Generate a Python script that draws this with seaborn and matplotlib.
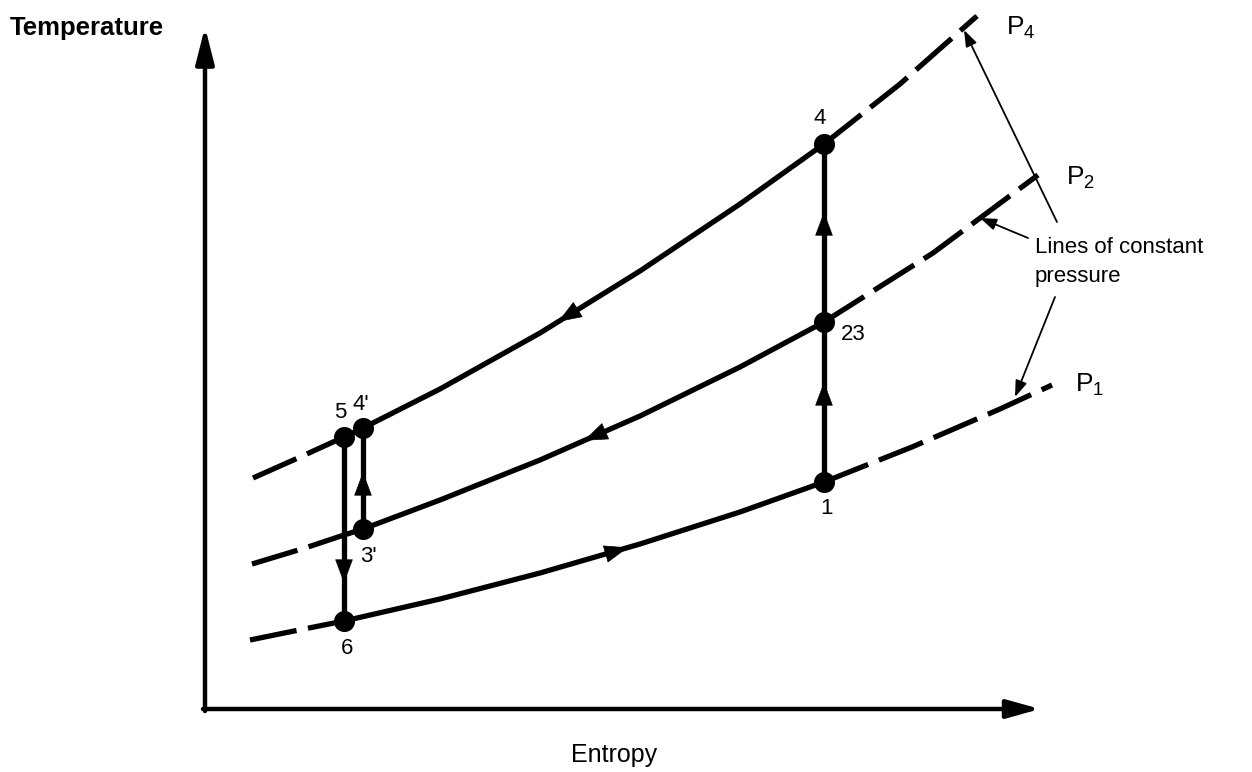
import numpy as np
import pandas as pd
import matplotlib
matplotlib.use("Agg")
import matplotlib.pyplot as plt
import seaborn as sns

# Constant-pressure lines on the T-s plane (entropy, temperature in drawing units)
p4_entropy = [253, 298, 344, 363, 440, 540, 640, 740, 824, 900, 977]
p4_temperature = [294, 314, 335, 344, 383, 439, 501, 568, 628, 688, 756]

p2_entropy = [252, 305, 344, 363, 440, 540, 640, 740, 824, 933, 1038]
p2_temperature = [208, 224, 237, 243, 272, 312, 356, 405, 450, 519, 597]

p1_entropy = [250, 294, 344, 440, 540, 640, 740, 824, 912, 1000, 1052]
p1_temperature = [132, 141, 151, 173, 199, 228, 260, 290, 325, 363, 387]

# Cycle states: label, entropy, isobar the state sits on
state_labels = ["1", "23", "4", "4'", "5", "6", "3'"]
state_entropy = [824, 824, 824, 363, 344, 344, 363]
state_isobar = ["P1", "P2", "P4", "P4", "P4", "P1", "P2"]

# Entropy span drawn solid on each isobar (the part the cycle uses)
solid_span = {"P4": (344, 824), "P2": (344, 824), "P1": (344, 824)}

curves = {
    "P4": (np.array(p4_entropy, float), np.array(p4_temperature, float)),
    "P2": (np.array(p2_entropy, float), np.array(p2_temperature, float)),
    "P1": (np.array(p1_entropy, float), np.array(p1_temperature, float)),
}


def temp_on(isobar, s):
    xs, ys = curves[isobar]
    return float(np.interp(s, xs, ys))


sns.set_theme(style="white")
plt.rcParams["font.family"] = ["Liberation Sans", "DejaVu Sans"]
plt.rcParams["text.color"] = "black"

fig = plt.figure(figsize=(12.52, 7.72), dpi=100)
ax = fig.add_axes([0, 0, 1, 1])
ax.set_xlim(0, 1252)
ax.set_ylim(0, 772)
ax.axis("off")

LW = 3.8
INK = "black"

# Isobars: dashed outside the cycle, solid along it
for name, (xs, ys) in curves.items():
    lo, hi = solid_span[name]
    df = pd.DataFrame({"s": xs, "T": ys})
    left = df[df.s <= lo]
    mid = df[(df.s >= lo) & (df.s <= hi)]
    right = df[df.s >= hi]
    sns.lineplot(data=mid, x="s", y="T", ax=ax, color=INK, lw=LW,
                 estimator=None, sort=False, solid_capstyle="round",
                 solid_joinstyle="round")
    for part in (left, right):
        sns.lineplot(data=part, x="s", y="T", ax=ax, color=INK, lw=LW,
                     estimator=None, sort=False,
                     linestyle=(0, (9, 2.2)), dash_capstyle="butt")

# Vertical (isentropic) processes of the cycle
state_T = {lab: temp_on(iso, s) for lab, s, iso in
           zip(state_labels, state_entropy, state_isobar)}
state_S = dict(zip(state_labels, state_entropy))
processes = [("1", "4"), ("3'", "4'"), ("5", "6")]
for a, b in processes:
    seg = pd.DataFrame({"s": [state_S[a], state_S[b]],
                        "T": [state_T[a], state_T[b]]})
    sns.lineplot(data=seg, x="s", y="T", ax=ax, color=INK, lw=LW,
                 estimator=None, sort=False)


def head(tip, tail, scale=20, hl=0.8, hw=0.3):
    ax.annotate("", xy=tip, xytext=tail,
                arrowprops=dict(arrowstyle=f"-|>,head_length={hl},head_width={hw}",
                                mutation_scale=scale, color=INK, lw=0.5,
                                shrinkA=0, shrinkB=0))


# Flow direction along the isobars
for name, s_at, direction in [("P4", 568, -1), ("P2", 594, -1), ("P1", 618, +1)]:
    tip = (s_at + direction * 10, temp_on(name, s_at + direction * 10))
    tail = (s_at - direction * 10, temp_on(name, s_at - direction * 10))
    head(tip, tail)

# Flow direction on the vertical processes
for s_at, t_tip, t_tail in [(824, 390, 358), (824, 560, 528),
                            (363, 300, 268), (344, 189, 221)]:
    head((s_at, t_tip), (s_at, t_tail))

# Cycle state markers
sns.scatterplot(x=[state_S[k] for k in state_labels],
                y=[state_T[k] for k in state_labels],
                ax=ax, s=230, color=INK, edgecolor=INK, linewidth=0, zorder=5)

label_offset = {"1": (3, -26), "23": (29, -13), "4": (-4, 25), "4'": (-2, 24),
                "5": (-4, 25), "6": (3, -27), "3'": (5, -28)}
for lab in state_labels:
    dx, dy = label_offset[lab]
    ax.text(state_S[lab] + dx, state_T[lab] + dy, lab, fontsize=16,
            ha="center", va="center", color=INK)

# Axes drawn as arrows
ax.annotate("", xy=(205, 745), xytext=(205, 61),
            arrowprops=dict(arrowstyle="-|>,head_length=1.1,head_width=0.28",
                            mutation_scale=20, color=INK, lw=3.2,
                            shrinkA=0, shrinkB=0))
ax.annotate("", xy=(1040, 63), xytext=(203, 63),
            arrowprops=dict(arrowstyle="-|>,head_length=1.0,head_width=0.28",
                            mutation_scale=20, color=INK, lw=3.2,
                            shrinkA=0, shrinkB=0))
ax.text(10, 744, "Temperature", fontsize=18.5, fontweight="bold",
        ha="left", va="center", color=INK)
ax.text(614, 17, "Entropy", fontsize=18, ha="center", va="center", color=INK)

# Isobar names
ax.text(1006, 744, r"$\mathregular{P_4}$", fontsize=19, ha="left", va="center",
        color=INK)
ax.text(1066, 594, r"$\mathregular{P_2}$", fontsize=19, ha="left", va="center",
        color=INK)
ax.text(1075, 387, r"$\mathregular{P_1}$", fontsize=19, ha="left", va="center",
        color=INK)

# Callout for the isobars
ax.text(1035, 510, "Lines of constant\npressure", fontsize=16, ha="left",
        va="center", linespacing=1.45, color=INK)
for tip, tail in [((964, 742), (1057, 550)),
                  ((980, 554), (1028, 534)),
                  ((1015, 375), (1055, 475))]:
    ax.annotate("", xy=tip, xytext=tail,
                arrowprops=dict(arrowstyle="-|>,head_length=0.7,head_width=0.25",
                                mutation_scale=14, color=INK, lw=1.3,
                                shrinkA=0, shrinkB=0))

fig.savefig("out.png", dpi=100, facecolor="white")
